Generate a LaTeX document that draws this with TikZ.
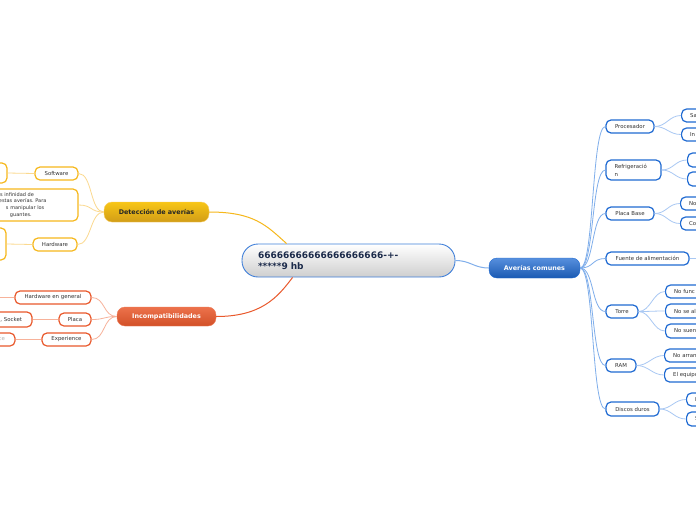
\documentclass[tikz,border=0pt]{standalone}
\usepackage{fontspec}
\setmainfont{DejaVu Sans}
\usepackage{tikz}
\usetikzlibrary{positioning,calc}
\definecolor{mapblue}{HTML}{1F6AD2}
\definecolor{mapbluemid}{HTML}{7FAEEB}
\definecolor{mapbluelt}{HTML}{A9C8F3}
\definecolor{mapyellow}{HTML}{F6B81C}
\definecolor{mapyellowlt}{HTML}{FBD98F}
\definecolor{mapred}{HTML}{E9592C}
\definecolor{mapredlt}{HTML}{F7B29A}
\definecolor{mapnavy}{HTML}{1B2A4A}
\definecolor{maptext}{HTML}{333333}
\frenchspacing
\newcommand{\mapline}[2]{\makebox[134pt][l]{\hspace*{#1}#2}}

\begin{document}
\begin{tikzpicture}[x=1pt, y=-1pt,
  topic/.style={rounded corners=8pt, inner sep=0pt, minimum height=20pt, font=\fontsize{6.4}{7}\selectfont\bfseries},
  sub/.style={draw, fill=white, line width=1.2pt, rounded corners=5pt, inner sep=0pt, minimum height=13pt, font=\fontsize{5.4}{7}\selectfont, text=maptext},
  ylw/.style={sub, draw=mapyellow},
  rd/.style={sub, draw=mapred},
  bl/.style={sub, draw=mapblue},
  leaf/.style={bl, anchor=west, text width=50pt, align=left, inner xsep=8.5pt},
  link/.style={line width=0.8pt}
]
\clip (0,0) rectangle (696,520);
\fill[white] (0,0) rectangle (696,520);

% centre
\node[draw=mapblue!85, line width=0.9pt, top color=white, bottom color=gray!38, rounded corners=16pt,
  minimum width=213pt, minimum height=33pt, text width=181pt, align=left, inner sep=0pt,
  font=\fontsize{9}{11}\selectfont\bfseries, text=mapnavy] (root) at (348.5,260.5)
  {66666666666666666666-+-\\******9 hb};

% main topics
\node[topic, draw=mapyellow!70, top color=mapyellow!80!yellow, bottom color=mapyellow!85!black, text=black!85, minimum width=105pt] (det) at (156.5,212) {Detección de averías};
\node[topic, draw=mapred!80, top color=mapred!85!white, bottom color=mapred!90!black, text=white, minimum width=99pt, minimum height=19pt] (inc) at (166.5,316.5) {Incompatibilidades};
\node[topic, draw=mapblue, top color=mapblue!75!white, bottom color=mapblue!85!black, text=white, minimum width=91pt] (avc) at (534.5,268) {Averías comunes};

\draw[line width=1pt, mapyellow] (det.east) .. controls +(45,0) and +(-20,-18) .. ([xshift=45pt]root.north west);
\draw[line width=1pt, mapred] (inc.east) .. controls +(45,0) and +(-15,20) .. ([xshift=51pt]root.south west);
\draw[line width=1pt, mapbluemid] (root.east) .. controls +(15,0) and +(-15,0) .. (avc.west);

% Detección de averías
\node[ylw, minimum width=43pt] (dsw) at (56.5,173.5) {Software};
\node[ylw, minimum width=47pt, minimum height=20pt] (dswx) at (-16.5,173) {};
\node[ylw, minimum width=138pt, minimum height=32pt, text width=134pt, align=left, inner xsep=2pt,
  font=\fontsize{5}{6.8}\selectfont] (dtx) at (9,205)
  {\mapline{55pt}{os infinidad de}\\\mapline{57pt}{estas averías. Para}\\\mapline{64pt}{s manipular los}\\\mapline{68pt}{guantes.}};
\node[ylw, minimum width=44pt] (dhw) at (55,244.5) {Hardware};
\node[ylw, minimum width=46pt, minimum height=32pt] (dhwx) at (-17,244) {};
\draw[link, mapyellowlt] (det.west) .. controls +(-14,0) and +(14,0) .. (dsw.east);
\draw[link, mapyellowlt] (det.west) .. controls +(-14,0) and +(14,0) .. (dtx.east);
\draw[link, mapyellowlt] (det.west) .. controls +(-14,0) and +(14,0) .. (dhw.east);
\draw[link, mapyellowlt] (dsw.west) -- (dswx.east);
\draw[link, mapyellowlt] (dhw.west) -- (dhwx.east);

% Incompatibilidades
\node[rd, minimum width=76pt] (ihw) at (53,297.5) {Hardware en general};
\node[rd, minimum width=48pt] (ihwx) at (-27,297.5) {};
\node[rd, minimum width=32pt] (ipl) at (75,319.5) {Placa};
\node[rd, minimum height=15pt, text width=42pt, align=right, inner xsep=10pt] (iplx) at (1,319.5) {, Socket};
\node[rd, minimum width=49pt] (iex) at (66.5,339.5) {Experience};
\node[rd, text width=40pt, align=right, inner xsep=10pt, text=gray!60] (iexx) at (-15,339.5) {ce};
\draw[link, mapredlt] (inc.west) .. controls +(-14,0) and +(14,0) .. (ihw.east);
\draw[link, mapredlt] (inc.west) .. controls +(-14,0) and +(14,0) .. (ipl.east);
\draw[link, mapredlt] (inc.west) .. controls +(-14,0) and +(14,0) .. (iex.east);
\draw[link, mapredlt] (ihw.west) -- (ihwx.east);
\draw[link, mapredlt] (ipl.west) -- (iplx.east);
\draw[link, mapredlt] (iex.west) -- (iexx.east);

% Averías comunes
\node[bl, minimum width=48pt] (rpro) at (630,126.5) {Procesador};
\node[bl, minimum width=55pt, minimum height=20pt, text width=38pt, align=left, font=\fontsize{5.4}{8}\selectfont] (rref) at (633.5,170) {Refrigeració\\n};
\node[bl, minimum width=48pt] (rpb) at (630,213.5) {Placa Base};
\node[bl, minimum width=83pt] (rfa) at (647.5,258.5) {Fuente de alimentación};
\node[bl, minimum width=32pt] (rto) at (622,311.5) {Torre};
\node[bl, minimum width=30pt] (rram) at (621,365.5) {RAM};
\node[bl, minimum width=53pt, minimum height=14pt] (rdd) at (632.5,409) {Discos duros};
\foreach \n in {rpro,rref,rpb,rfa,rto,rram,rdd}
  \draw[link, mapbluemid] (avc.east) .. controls +(14,0) and +(-14,0) .. (\n.west);

\node[leaf] (pro1) at (681,115.5) {Sa};
\node[leaf] (pro2) at (681,134.5) {In};
\node[leaf, minimum height=14pt] (ref1) at (687,160) {};
\node[leaf, minimum height=14pt] (ref2) at (687,179) {};
\node[leaf] (pb1) at (680,203.5) {No};
\node[leaf] (pb2) at (680,223.5) {Co};
\node[leaf] (fa1) at (702,258.5) {};
\node[leaf] (to1) at (665,291.5) {No func};
\node[leaf, minimum height=14pt] (to2) at (665,311) {No se al};
\node[leaf, minimum height=14pt] (to3) at (665,331) {No suen};
\node[leaf] (ram1) at (664,355.5) {No arran};
\node[leaf, minimum height=14pt] (ram2) at (664,375) {El equipo};
\node[leaf] (dd1) at (686,399.5) {I};
\node[leaf, minimum height=14pt] (dd2) at (686,419) {S};
\foreach \a/\b in {rpro/pro1,rpro/pro2,rref/ref1,rref/ref2,rpb/pb1,rpb/pb2,rfa/fa1,rto/to1,rto/to2,rto/to3,rram/ram1,rram/ram2,rdd/dd1,rdd/dd2}
  \draw[link, mapbluelt] (\a.east) .. controls +(12,0) and +(-12,0) .. (\b.west);
\end{tikzpicture}
\end{document}
